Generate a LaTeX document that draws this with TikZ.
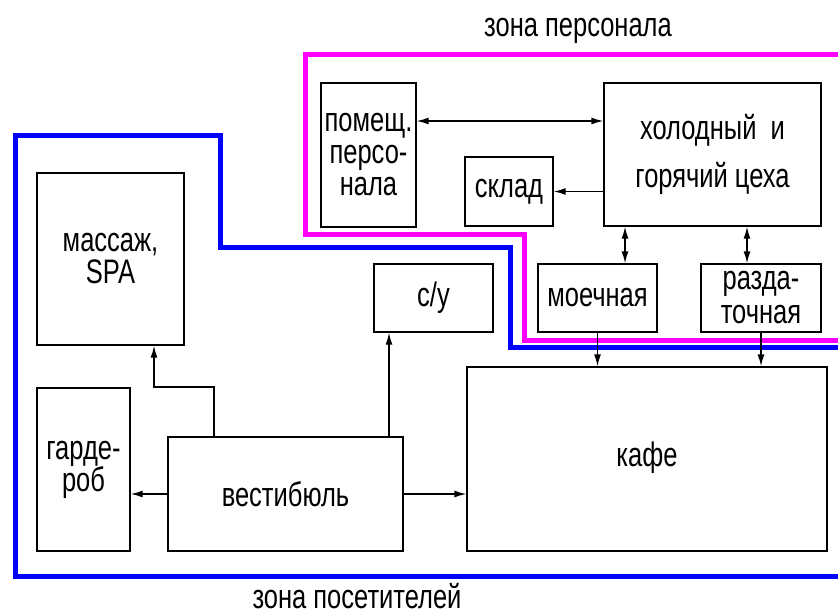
\documentclass[tikz,border=0pt]{standalone}
\usepackage{fontspec}
\setmainfont{Liberation Sans}[FakeStretch=0.75]
\usetikzlibrary{arrows.meta}
\definecolor{zonepink}{RGB}{255,0,255}
\definecolor{zoneblue}{RGB}{0,0,255}

\begin{document}
\begin{tikzpicture}[x=0.5pt,y=-0.5pt,
    room/.style={draw,line width=0.7pt,inner sep=0pt,align=center,font=\fontsize{17}{16}\selectfont},
    link/.style={line width=0.7pt,-{Latex[length=6pt,width=3.5pt]}},
    both/.style={line width=0.7pt,{Latex[length=6pt,width=3.5pt]}-{Latex[length=6pt,width=3.5pt]}},
    zone/.style={line width=2.5pt}]
\useasboundingbox (0,0) rectangle (838,614);
% zones
\draw[zone,zonepink] (838,55) -- (305,55) -- (305,235) -- (524,235) -- (524,340) -- (838,340);
\draw[zone,zoneblue] (838,347) -- (510,347) -- (510,248) -- (220,248) -- (220,136) -- (15,136) -- (15,576) -- (838,576);
\node[anchor=base,font=\fontsize{17}{16}\selectfont] (zpers) at (578,37) {зона персонала};
\node[anchor=base,font=\fontsize{17}{16}\selectfont] (zvis) at (357,608) {зона посетителей};
% rooms
\node[room,minimum width=47.5pt,minimum height=72pt] (pom) at (368.5,155) {помещ.\\персо-\\нала};
\node[room,minimum width=108.5pt,minimum height=71.5pt] (hol) at (712.5,154.5) {холодный \ и\\[7pt]горячий цеха};
\node[room,minimum width=44pt,minimum height=34.5pt] (sklad) at (509,191.5) {склад};
\node[room,minimum width=59.5pt,minimum height=34pt] (moech) at (597.5,298) {моечная};
\node[room,minimum width=60pt,minimum height=34pt] (razd) at (761,298) {разда-\\[1pt]точная};
\node[room,minimum width=59.5pt,minimum height=34pt] (su) at (433.5,298) {с/у};
\node[room,minimum width=73.5pt,minimum height=86pt] (mass) at (110.5,259) {массаж,\\SPA};
\node[room,minimum width=46.5pt,minimum height=81.5pt] (gard) at (83.5,469.5) {гарде-\\роб};
\node[room,minimum width=117.5pt,minimum height=57pt] (vest) at (285.5,494) {вестибюль};
\node[room,minimum width=180pt,minimum height=92pt] (kafe) at (647,459) {\raisebox{4.5pt}{кафе}};
% links
\coordinate (y1) at (0,121);
\coordinate (x1) at (625,0);
\coordinate (x2) at (747,0);
\coordinate (x3) at (389,0);
\coordinate (c1) at (214,387);
\coordinate (c2) at (154,387);
\draw[both] (pom.east |- y1) -- (hol.west |- y1);
\draw[link] (hol.west |- sklad.east) -- (sklad.east);
\draw[both] (hol.south -| x1) -- (moech.north -| x1);
\draw[both] (hol.south -| x2) -- (razd.north -| x2);
\draw[link] (moech.south) -- (moech.south |- kafe.north);
\draw[link] (razd.south) -- (razd.south |- kafe.north);
\draw[link] (vest.west) -- (gard.east |- vest.west);
\draw[link] (vest.east) -- (kafe.west |- vest.east);
\draw[link] (vest.north -| x3) -- (su.south -| x3);
\draw[link] (vest.north -| c1) -- (c1) -- (c2) -- (mass.south -| c2);
\end{tikzpicture}
\end{document}
